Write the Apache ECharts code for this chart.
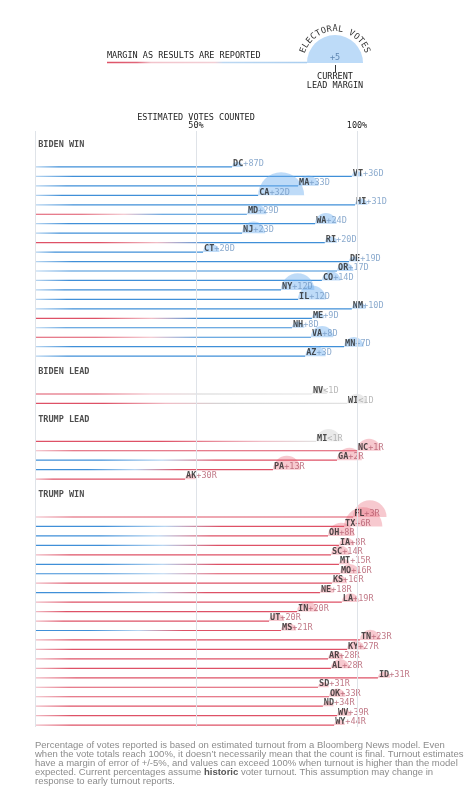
<!DOCTYPE html>
<html>
<head>
<meta charset="utf-8">
<script src="https://cdn.jsdelivr.net/npm/echarts@6/dist/echarts.min.js"></script>
<style>
  html, body { margin: 0; padding: 0; background: #ffffff; }
  #chart { width: 475px; height: 800px; }
</style>
</head>
<body>
<div id="chart"></div>
<script>
// ---------------- DATA ----------------
const sectionTitles = ['BIDEN WIN', 'BIDEN LEAD', 'TRUMP LEAD', 'TRUMP WIN'];
const sectionSizes = [21, 2, 5, 23];

const states = [
  'DC','VT','MA','CA','HI','MD','WA','NJ','RI','CT','DE','OR','CO','NY','IL','NM','ME','NH','VA','MN','AZ',
  'NV','WI',
  'MI','NC','GA','PA','AK',
  'FL','TX','OH','IA','SC','MT','MO','KS','NE','LA','IN','UT','MS','TN','KY','AR','AL','ID','SD','OK','ND','WV','WY'
];
// estimated share of votes counted (%)
const counted = [
  61.2, 98.4, 81.7, 69.3, 99.4, 65.8, 87.0, 64.3, 90.0, 52.2, 97.5, 93.8, 89.1, 76.4, 81.7, 98.4, 86.0, 79.8, 85.7, 96.0, 83.9,
  86.0, 96.9,
  87.3, 100.0, 93.8, 73.9, 46.6,
  98.8, 96.0, 91.0, 94.4, 91.9, 94.4, 94.7, 92.2, 88.5, 95.3, 81.4, 72.7, 76.4, 100.9, 96.9, 91.0, 91.9, 106.5, 87.9, 91.3, 89.4, 93.8, 92.9
];
const margins = [
  '+87D','+36D','+33D','+32D','+31D','+29D','+24D','+23D','+20D','+20D','+19D','+17D','+14D','+12D','+12D','+10D','+9D','+8D','+8D','+7D','+3D',
  '<1D','<1D',
  '<1R','+1R','+2R','+13R','+30R',
  '+3R','+6R','+8R','+8R','+14R','+15R','+16R','+16R','+18R','+19R','+20R','+20R','+21R','+23R','+27R','+28R','+28R','+31R','+31R','+33R','+34R','+39R','+44R'
];
const electoralVotes = [
  3, 3, 11, 55, 4, 10, 12, 14, 4, 7, 3, 7, 9, 29, 20, 5, 4, 4, 13, 10, 11,
  6, 10,
  16, 15, 16, 20, 3,
  29, 38, 18, 6, 9, 3, 10, 6, 5, 8, 11, 6, 6, 11, 8, 6, 9, 4, 3, 7, 3, 5, 3
];
// who led early in the count ('' = same as current leader)
const earlyLeader = [
  '','','','','','R','','','R','','','','','','','','R','','R','','',
  'R','R',
  '','','D','D','',
  '','D','D','D','','D','D','','D','','','','D','','','','','','','','','',''
];
const tickValues = [50, 100];
const footnoteLines = [
  'Percentage of votes reported is based on estimated turnout from a Bloomberg News model. Even',
  'when the vote totals reach 100%, it doesn\u2019t necessarily mean that the count is final. Turnout estimates',
  'have a margin of error of +/-5%, and values can exceed 100% when turnout is higher than the model',
  'expected. Current percentages assume {b|historic} voter turnout. This assumption may change in',
  'response to early turnout reports.'
];

// ---------------- LAYOUT (row indices) ----------------
const rowOf = [];
const headerRows = [];
(function () {
  let row = 0;
  sectionSizes.forEach(function (n) {
    headerRows.push(row - 2.3);
    for (let k = 0; k < n; k++) rowOf.push(row + k);
    row += n + 3;
  });
})();

const MONO = 'DejaVu Sans Mono';
const COL = {
  D: '#3f8fd8', Dl: '#b9d6f1',
  R: '#de5166', Rl: '#f1bcc5',
  T: '#d4d4d4'
};
function party(i) {
  const m = margins[i];
  if (m.charAt(0) === '<') return 'T' + m.charAt(m.length - 1);
  return m.charAt(m.length - 1);
}

const chart = echarts.init(document.getElementById('chart'), null, { renderer: 'canvas' });

function lineItem(params, api) {
  const i = api.value(2);
  const a = api.coord([0, api.value(1)]);
  const b = api.coord([api.value(0), api.value(1)]);
  const p = party(i);
  const fin = p.charAt(p.length - 1);
  const tie = p.charAt(0) === 'T';
  const main = COL[fin];
  const light = COL[fin + 'l'];
  const e = earlyLeader[i];
  let stops;
  if (e && e !== fin) {
    stops = [
      { offset: 0, color: COL[e] },
      { offset: 0.22, color: COL[e] },
      { offset: 0.42, color: COL[e + 'l'] },
      { offset: 0.6, color: tie ? COL.T : main },
      { offset: 1, color: tie ? '#e2e2e2' : main }
    ];
  } else if (tie) {
    stops = [
      { offset: 0, color: main },
      { offset: 0.45, color: main },
      { offset: 0.8, color: light },
      { offset: 1, color: '#e2e2e2' }
    ];
  } else {
    stops = [
      { offset: 0, color: light },
      { offset: 0.12, color: main },
      { offset: 1, color: main }
    ];
  }
  const grad = new echarts.graphic.LinearGradient(a[0], 0, Math.max(b[0], a[0] + 1), 0, stops, true);
  return {
    type: 'line',
    shape: { x1: a[0], y1: a[1], x2: b[0], y2: b[1] },
    style: { stroke: grad, lineWidth: 1.2 }
  };
}

function semiItem(params, api) {
  const i = api.value(2);
  const p = api.coord([api.value(0), api.value(1)]);
  const r = 3.1 * Math.sqrt(electoralVotes[i]);
  const pt = party(i);
  let fill;
  if (pt.charAt(0) === 'T') fill = 'rgba(195,195,195,0.35)';
  else if (pt === 'D') fill = 'rgba(110,175,240,0.45)';
  else fill = 'rgba(230,90,110,0.33)';
  return {
    type: 'sector',
    shape: { cx: p[0] + r, cy: p[1], r: r, r0: 0, startAngle: Math.PI, endAngle: Math.PI * 2, clockwise: true },
    style: { fill: fill }
  };
}

const seriesData = counted.map(function (v, i) { return [v, rowOf[i], i]; });

// arc text for legend
const arcText = 'ELECTORAL VOTES';
const arcGraphics = [];
(function () {
  const cx = 335, cy = 63, rad = 34;
  const a0 = 158, a1 = 22;
  const n = arcText.length;
  for (let k = 0; k < n; k++) {
    const ang = a0 + (a1 - a0) * k / (n - 1);
    const t = ang * Math.PI / 180;
    arcGraphics.push({
      type: 'text',
      x: cx + rad * Math.cos(t),
      y: cy - rad * Math.sin(t),
      rotation: (ang - 90) * Math.PI / 180,
      style: {
        text: arcText.charAt(k), fill: '#333', font: '8.5px ' + MONO,
        align: 'center', verticalAlign: 'middle'
      },
      silent: true
    });
  }
})();

const option = {
  animation: false,
  backgroundColor: '#ffffff',
  grid: { left: 35, right: 53.6, top: 131, bottom: 73, containLabel: false, outerBoundsMode: 'none' },
  xAxis: {
    type: 'value', position: 'top', min: 0, max: 120, interval: 50,
    axisLine: { show: false }, axisTick: { show: false }, splitLine: { show: false },
    axisLabel: {
      margin: 0.5, color: '#222', fontFamily: MONO, fontSize: 8.5, lineHeight: 8.5,
      formatter: function (v) {
        if (v === tickValues[0]) return 'ESTIMATED VOTES COUNTED\n' + v + '%';
        if (tickValues.indexOf(v) >= 0) return v + '%';
        return '';
      }
    }
  },
  yAxis: {
    type: 'value', inverse: true, min: -3.8, max: 59.2, show: false
  },
  series: [
    {
      type: 'scatter', name: 'headers', symbolSize: 0, silent: true,
      data: headerRows.map(function (r, k) { return [1, r, k]; }),
      label: {
        show: true, position: 'right', distance: 0,
        formatter: function (p) { return sectionTitles[p.data[2]]; },
        fontFamily: MONO, fontWeight: 'bold', fontSize: 8.5, color: '#222'
      },
      markLine: {
        silent: true, symbol: 'none', label: { show: false },
        lineStyle: { color: '#dfe3e8', width: 1, type: 'solid' },
        data: [{ xAxis: 0 }, { xAxis: tickValues[0] }, { xAxis: tickValues[1] }]
      }
    },
    {
      type: 'custom', name: 'lines', silent: true,
      encode: { x: 0, y: 1 },
      renderItem: lineItem,
      data: seriesData
    },
    {
      type: 'custom', name: 'votes', silent: true,
      encode: { x: 0, y: 1 },
      renderItem: semiItem,
      data: seriesData
    },
    {
      type: 'scatter', name: 'labels', symbolSize: 0, silent: true,
      data: seriesData,
      label: {
        show: true, position: 'right', distance: 1, offset: [0, -3],
        formatter: function (p) {
          const i = p.data[2];
          const pt = party(i);
          const cls = pt.charAt(0) === 'T' ? 't' : (pt === 'D' ? 'd' : 'r');
          return '{s|' + states[i] + '}{' + cls + '|' + margins[i] + '}';
        },
        rich: {
          s: { fontFamily: MONO, fontWeight: 'bold', fontSize: 8.5, color: '#222' },
          d: { fontFamily: MONO, fontSize: 8.5, color: '#6f96c2' },
          r: { fontFamily: MONO, fontSize: 8.5, color: '#b2596a' },
          t: { fontFamily: MONO, fontSize: 8.5, color: '#a8a8a8' }
        }
      }
    }
  ],
  graphic: [
    {
      type: 'line', silent: true,
      shape: { x1: 107, y1: 62.5, x2: 307, y2: 62.5 },
      style: {
        lineWidth: 1.5,
        stroke: new echarts.graphic.LinearGradient(107, 0, 307, 0, [
          { offset: 0, color: '#de5166' },
          { offset: 0.15, color: '#e0667a' },
          { offset: 0.22, color: '#f2c3cb' },
          { offset: 0.54, color: '#f2cfd5' },
          { offset: 0.58, color: '#bcd8f2' },
          { offset: 1, color: '#a9cdef' }
        ], true)
      }
    },
    {
      type: 'sector', silent: true,
      shape: { cx: 335, cy: 63, r: 28, r0: 0, startAngle: Math.PI, endAngle: Math.PI * 2, clockwise: true },
      style: { fill: '#bddbf8' }
    },
    {
      type: 'text', silent: true, x: 107, y: 56,
      style: { text: 'MARGIN AS RESULTS ARE REPORTED', fill: '#222', font: '8.5px ' + MONO, verticalAlign: 'middle' }
    },
    {
      type: 'text', silent: true, x: 335, y: 57.5,
      style: { text: '+5', fill: '#5f87b3', font: '8.5px ' + MONO, align: 'center', verticalAlign: 'middle' }
    },
    {
      type: 'line', silent: true,
      shape: { x1: 335.5, y1: 65, x2: 335.5, y2: 72 },
      style: { stroke: '#333', lineWidth: 1 }
    },
    {
      type: 'text', silent: true, x: 335, y: 77,
      style: { text: 'CURRENT', fill: '#222', font: '8.5px ' + MONO, align: 'center', verticalAlign: 'middle' }
    },
    {
      type: 'text', silent: true, x: 335, y: 85.5,
      style: { text: 'LEAD MARGIN', fill: '#222', font: '8.5px ' + MONO, align: 'center', verticalAlign: 'middle' }
    },
    {
      type: 'text', silent: true, x: 35, y: 741,
      style: {
        text: footnoteLines.join('\n'),
        fill: '#8c8c8c', fontFamily: 'Liberation Sans', fontSize: 9.5, lineHeight: 9,
        rich: {
          b: { fontFamily: 'Liberation Sans', fontSize: 9.5, fontWeight: 'bold', fill: '#555', lineHeight: 9 }
        }
      }
    }
  ].concat(arcGraphics)
};

chart.setOption(option);
</script>
</body>
</html>
